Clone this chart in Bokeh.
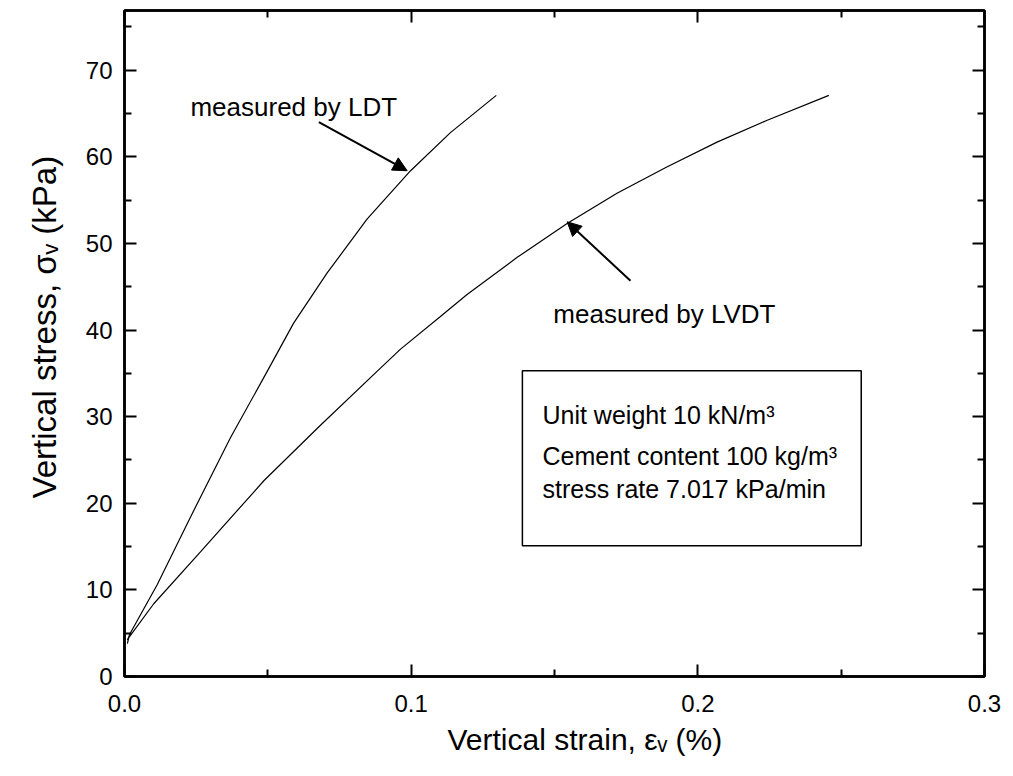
from bokeh.plotting import figure
from bokeh.models import LinearAxis, Arrow, NormalHead, Label, Range1d, FixedTicker, BoxAnnotation, CustomJSTickFormatter, Title
from bokeh.embed import file_html
from bokeh.resources import INLINE

# ---- data ----
ldt_strain = [0.001, 0.002, 0.0114, 0.023, 0.037, 0.0494, 0.059, 0.0707, 0.0846, 0.0998, 0.1137, 0.1297]
ldt_stress = [4.2, 5.0, 10.6, 18.4, 27.6, 35.0, 40.8, 46.6, 52.8, 58.4, 62.8, 67.1]

lvdt_strain = [0.001, 0.0015, 0.0102, 0.0265, 0.0486, 0.068, 0.088, 0.0963, 0.110, 0.1195, 0.137, 0.1544, 0.1718, 0.189, 0.2067, 0.224, 0.2457]
lvdt_stress = [3.8, 4.5, 8.4, 14.4, 22.6, 28.9, 35.2, 37.8, 41.5, 44.1, 48.4, 52.3, 55.8, 58.8, 61.7, 64.2, 67.1]

x_ticks = [0.0, 0.1, 0.2, 0.3]
x_tick_labels = ["0.0", "0.1", "0.2", "0.3"]
x_minor = [0.05, 0.15, 0.25]
y_ticks = [0, 10, 20, 30, 40, 50, 60, 70]
y_minor = [5, 15, 25, 35, 45, 55, 65, 75]

x_title = "Vertical strain, εᵥ (%)"
y_title = "Vertical stress, σᵥ (kPa)"

FONT = "Liberation Sans"

p = figure(frame_width=860, frame_height=666, width=1013, height=776,
           min_border_left=124, min_border_right=29, min_border_top=10, min_border_bottom=100,
           x_range=Range1d(0, 0.3), y_range=Range1d(0, 76.9),
           output_backend="svg", toolbar_location=None,
           background_fill_color=None, border_fill_color="white")
p.xgrid.visible = False
p.ygrid.visible = False
p.outline_line_color = "black"
p.outline_line_width = 2.5

p.line(ldt_strain, ldt_stress, line_color="black", line_width=1.2)
p.line(lvdt_strain, lvdt_stress, line_color="black", line_width=1.2)

def style_axis(ax, show_labels):
    ax.axis_line_width = 2.5
    ax.axis_line_color = "black"
    ax.major_tick_in = 12
    ax.major_tick_out = 0
    ax.minor_tick_in = 7
    ax.minor_tick_out = 0
    ax.major_tick_line_width = 2
    ax.minor_tick_line_width = 2
    ax.major_tick_line_color = "black"
    ax.minor_tick_line_color = "black"
    ax.major_label_text_font = FONT
    ax.major_label_text_font_size = "24px"
    ax.major_label_text_color = "black" if show_labels else None

fmt_x = CustomJSTickFormatter(args=dict(lbls=x_tick_labels, tks=x_ticks),
                              code="const i = tks.findIndex(t => Math.abs(t - tick) < 1e-9); return i >= 0 ? lbls[i] : '';")

xa = p.xaxis[0]
xa.ticker = FixedTicker(ticks=x_ticks, minor_ticks=x_minor)
xa.formatter = fmt_x
style_axis(xa, True)
xa.major_label_standoff = 18

ya = p.yaxis[0]
ya.ticker = FixedTicker(ticks=y_ticks, minor_ticks=y_minor)
style_axis(ya, True)
ya.major_label_standoff = 12

top = LinearAxis(ticker=FixedTicker(ticks=x_ticks, minor_ticks=x_minor))
style_axis(top, False)
p.add_layout(top, "above")
right = LinearAxis(ticker=FixedTicker(ticks=y_ticks, minor_ticks=y_minor))
style_axis(right, False)
p.add_layout(right, "right")

# axis titles as Title objects so they can be offset like the reference
p.add_layout(Title(text=x_title, align="left", offset=323, standoff=12,
                   text_font=FONT, text_font_size="30px", text_font_style="normal",
                   text_color="black"), "below")
p.add_layout(Title(text=y_title, align="left", offset=178, standoff=40,
                   text_font=FONT, text_font_size="33px", text_font_style="normal",
                   text_color="black"), "left")

# annotations
p.add_layout(Label(x=0.023, y=65.7, text="measured by LDT", text_font=FONT,
                   text_font_size="26px", text_baseline="alphabetic", text_color="black"))
p.add_layout(Label(x=0.1496, y=41.9, text="measured by LVDT", text_font=FONT,
                   text_font_size="26px", text_baseline="alphabetic", text_color="black"))

p.add_layout(Arrow(x_start=0.0678, y_start=64.0, x_end=0.0986, y_end=58.4,
                   line_width=2, line_color="black",
                   end=NormalHead(size=14, fill_color="black", line_color="black")))
p.add_layout(Arrow(x_start=0.1765, y_start=45.7, x_end=0.1544, y_end=52.5,
                   line_width=2, line_color="black",
                   end=NormalHead(size=14, fill_color="black", line_color="black")))

p.add_layout(BoxAnnotation(left=0.1388, right=0.257, bottom=15.1, top=35.3,
                           fill_color=None, line_color="black", line_alpha=1.0, line_width=1.5))

box_lines = ["Unit weight 10 kN/m³", "Cement content 100 kg/m³", "stress rate 7.017 kPa/min"]
box_y = [30.15, 25.5, 21.7]
for t, yy in zip(box_lines, box_y):
    p.add_layout(Label(x=0.1458, y=yy, text=t, text_font=FONT, text_font_size="25px",
                       text_baseline="alphabetic", text_color="black"))

open("out.html", "w").write(file_html(p, INLINE))
